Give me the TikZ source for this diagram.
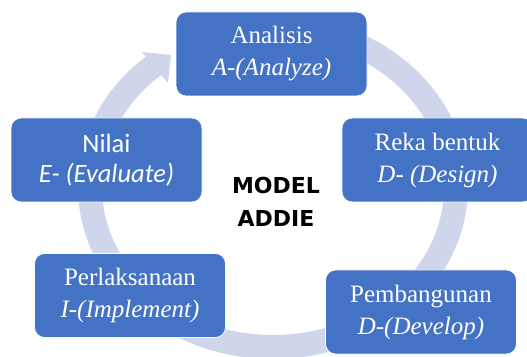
\documentclass[tikz,border=0pt]{standalone}
\usepackage{fontspec}
\setmainfont{Liberation Serif}
\newfontfamily\carlitofont{Carlito}
\newfontfamily\titlefont{DejaVu Sans}
\definecolor{boxblue}{RGB}{68,114,196}
\definecolor{ringcol}{RGB}{207,213,234}
\begin{document}
\begin{tikzpicture}[x=1pt,y=1pt,
  box/.style={rounded corners=10pt, fill=boxblue, draw=white, line width=0.8pt,
    minimum width=191pt, minimum height=84pt, text=white, align=center, inner sep=0pt},
  serifbox/.style={box, font=\fontsize{25}{32}\selectfont},
  sansbox/.style={box, font=\carlitofont\fontsize{26.5}{30}\selectfont},
  ring/.style={draw=ringcol, line width=24pt},
  ringhead/.style={fill=ringcol, draw=none},
  title/.style={font=\titlefont\bfseries\fontsize{22}{33}\selectfont, align=center,
    text=black}]
\useasboundingbox (0,0) rectangle (527,356);
\clip (0,0) rectangle (527,356);
% ring
\coordinate (rc) at (273,169);
\draw[ring] (rc) ++({183*cos(130)},{160*sin(130)})
  arc[start angle=130, end angle=440, x radius=183pt, y radius=160pt];
\coordinate (h1) at (142,304);
\coordinate (h2) at (171,301);
\coordinate (h3) at (168,273);
\fill[ringhead] (h1) -- (h2) -- (h3) -- cycle;
% boxes
\node[serifbox] (a) at (271.5,302) {Analisis\\\itshape A-(Analyze)};
\node[serifbox] (d1) at (437.5,196) {Reka bentuk\\\itshape D- (Design)};
\node[serifbox] (d2) at (421,44) {Pembangunan\\\itshape D-(Develop)};
\node[serifbox] (i) at (130,60.5) {Perlaksanaan\\\itshape I-(Implement)};
\node[sansbox] (e) at (106.5,196) {Nilai\\\itshape E- (Evaluate)};
\node[title] (m) at (276,154) {MODEL\\ADDIE};
\end{tikzpicture}
\end{document}
